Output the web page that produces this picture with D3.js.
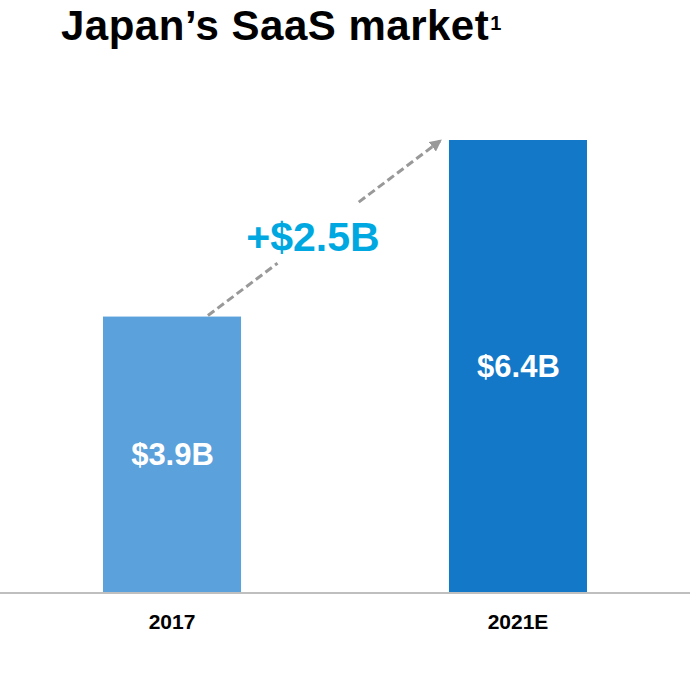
<!DOCTYPE html>
<html>
<head>
<meta charset="utf-8">
<script src="https://cdn.jsdelivr.net/npm/d3@7"></script>
<style>
  html, body { margin: 0; padding: 0; background: #fff; }
  svg text { font-family: "Liberation Sans", Arial, Helvetica, sans-serif; font-weight: bold; }
</style>
</head>
<body>
<svg id="chart" width="690" height="684"></svg>
<script>
const categories = ["2017", "2021E"];
const values = [3.9, 6.4];
const valueLabels = ["$3.9B", "$6.4B"];
const barColors = ["#5ba1db", "#1278c7"];
const changeLabel = "+$2.5B";
const titleText = "Japan\u2019s SaaS market";
const titleSup = "1";

const W = 690, H = 684;
const baseY = 592;
const svg = d3.select("#chart");

const x = d3.scaleBand().domain(categories).range([0, W]).paddingInner(0.601).paddingOuter(0.2977);
const y = d3.scaleLinear().domain([0, 6.4]).range([baseY, 140]);

// title
const t = svg.append("text").attr("x", 61).attr("y", 40).attr("font-size", 42)
  .attr("letter-spacing", 0.5).attr("fill", "#000");
t.append("tspan").text(titleText);
t.append("tspan").attr("font-size", 20).attr("dy", -10).attr("dx", 1).attr("letter-spacing", 0).text(titleSup);

// bars
svg.selectAll("rect.bar").data(categories).enter().append("rect")
  .attr("class", "bar")
  .attr("x", d => x(d))
  .attr("width", x.bandwidth())
  .attr("y", (d, i) => y(values[i]))
  .attr("height", (d, i) => baseY - y(values[i]))
  .attr("fill", (d, i) => barColors[i]);

// value labels
svg.selectAll("text.val").data(categories).enter().append("text")
  .attr("class", "val")
  .attr("x", d => x(d) + x.bandwidth() / 2 + 0.5)
  .attr("y", (d, i) => (y(values[i]) + baseY) / 2 + 11)
  .attr("text-anchor", "middle")
  .attr("font-size", 31)
  .attr("fill", "#fff")
  .text((d, i) => valueLabels[i]);

// axis
const axis = d3.axisBottom(x).tickSize(0).tickPadding(0);
const g = svg.append("g").attr("transform", `translate(0,${baseY})`).call(axis);
g.select(".domain").remove();
g.append("line").attr("x1", 0).attr("x2", W).attr("y1", 1).attr("y2", 1)
  .attr("stroke", "#bfbfbf").attr("stroke-width", 2);
g.selectAll(".tick text")
  .attr("y", 37).attr("dy", null)
  .attr("font-size", 21)
  .attr("font-family", "'Liberation Sans Narrow', 'Liberation Sans', Arial, sans-serif")
  .attr("font-weight", "bold")
  .attr("fill", "#000")
  .style("font-stretch", "condensed");

// dashed arrow
const x0 = x(categories[0]) + x.bandwidth() * 0.76, y0 = y(values[0]) - 1;
const x1 = x(categories[1]) - 9, y1 = y(values[1]) + 1;
const defs = svg.append("defs");
defs.append("marker").attr("id", "arr").attr("viewBox", "0 0 10 10")
  .attr("refX", 8).attr("refY", 5).attr("markerWidth", 4).attr("markerHeight", 4)
  .attr("orient", "auto").attr("markerUnits", "strokeWidth")
  .append("path").attr("d", "M0,0 L10,5 L0,10 z").attr("fill", "#999");
const lerp = (f) => [x0 + (x1 - x0) * f, y0 + (y1 - y0) * f];
const segs = [[0, 0.30], [0.65, 1]];
segs.forEach(([a, b], i) => {
  const p = lerp(a), q = lerp(b);
  const ln = svg.append("line").attr("x1", p[0]).attr("y1", p[1]).attr("x2", q[0]).attr("y2", q[1])
    .attr("stroke", "#999").attr("stroke-width", 3).attr("stroke-dasharray", "8,4");
  if (i === 1) ln.attr("marker-end", "url(#arr)");
});

// change label
svg.append("text").attr("x", 313).attr("y", 251).attr("text-anchor", "middle")
  .attr("font-size", 41).attr("fill", "#00a8e1").text(changeLabel);
</script>
</body>
</html>
